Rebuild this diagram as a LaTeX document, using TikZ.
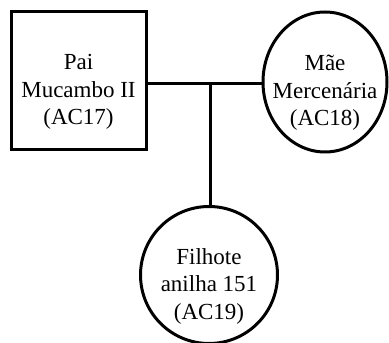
\documentclass[tikz,border=0pt]{standalone}
\usepackage{fontspec}
\setmainfont{Liberation Serif}
\usetikzlibrary{shapes.geometric}
\begin{document}
\begin{tikzpicture}[x=1pt,y=1pt,
  shapeline/.style={draw=black, line width=3pt},
  label text/.style={align=center, inner sep=0pt, font=\fontsize{23}{27.5}\selectfont},
  link/.style={draw=black, line width=3pt}]
  \useasboundingbox (0,0) rectangle (389,343);
  % parents and offspring
  \node[shapeline, rectangle, minimum width=135, minimum height=138] (pai) at (78.5,262) {};
  \node[shapeline, ellipse, minimum width=124, minimum height=140] (mae) at (325,261) {};
  \node[shapeline, circle, minimum size=137] (filhote) at (209,68) {};
  % names inside the shapes
  \node[label text] (paitxt) at ([yshift=-11]pai.center) {Pai\\Mucambo II\\(AC17)};
  \node[label text] (maetxt) at ([yshift=-11]mae.center) {Mãe\\Mercenária\\(AC18)};
  \node[label text] (filhotetxt) at ([yshift=-11]filhote.center) {Filhote\\anilha 151\\(AC19)};
  % mating line and descent line
  \coordinate (j) at (210.7,259);
  \draw[link] (pai.east |- j) -- (mae.west |- j);
  \draw[link] (j) -- (j |- filhote.north);
\end{tikzpicture}
\end{document}
